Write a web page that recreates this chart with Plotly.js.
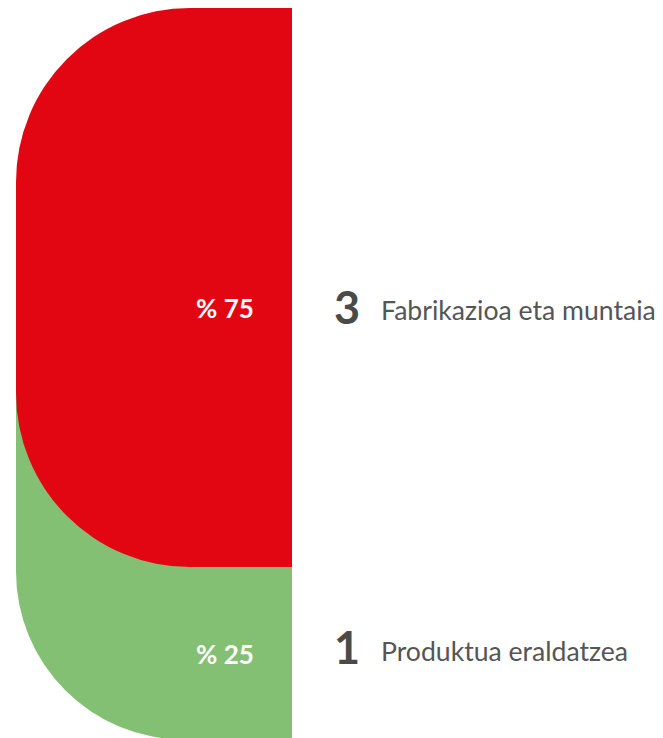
<!DOCTYPE html>
<html>
<head>
<meta charset="utf-8">
<script src="https://cdn.plot.ly/plotly-3.0.1.min.js"></script>
<style>
  html, body { margin: 0; padding: 0; background: #ffffff; }
  #chart { width: 663px; height: 738px; }
</style>
</head>
<body>
<div id="chart"></div>
<script>
// ---- data (bottom segment first) ----
const categories = ['Produktua eraldatzea', 'Fabrikazioa eta muntaia'];
const counts = [1, 3];
const shares = [25, 75];

// ---- styles ----
const colors = ['#83C074', '#E20613'];
const radii = [168, 174];          // corner radius in px
const BAR_LEN = 1;                 // horizontal length of every segment
const DROP = 1.42;                 // upper segment overlaps the one below (units)
const TUCK = 50;                   // lower segment hidden under the one above (units)
const PCT_YSHIFT = [-1, -20];
const NUM_YSHIFT = [6, -19];
const LAB_YSHIFT = [2, -22];
const FONT = 'Lato, "Open Sans", sans-serif';

// cumulative stack
const starts = [];
let acc = 0;
shares.forEach(s => { starts.push(acc); acc += s; });
const total = acc;
const n = shares.length;

const traces = [];
const annotations = [];
for (let i = 0; i < n; i++) {
  const lo = starts[i] - (i > 0 ? DROP : 0);
  const hi = starts[i] + shares[i] + (i < n - 1 ? TUCK : 0);
  traces.push({
    type: 'bar',
    orientation: 'h',
    x: [-BAR_LEN],
    y: [(lo + hi) / 2],
    width: [hi - lo],
    marker: { color: colors[i], cornerradius: radii[i], line: { width: 0 } },
    hoverinfo: 'skip',
    showlegend: false
  });
  const visLo = lo;
  const visHi = (i < n - 1) ? starts[i + 1] - DROP : starts[i] + shares[i];
  const yc = (visLo + visHi) / 2;
  annotations.push({
    xref: 'x', yref: 'y', x: -0.13, y: yc, yshift: PCT_YSHIFT[i],
    xanchor: 'right', yanchor: 'middle', showarrow: false,
    text: '<b>% ' + shares[i] + '</b>',
    font: { family: FONT, size: 26, color: '#ffffff' }
  });
  annotations.push({
    xref: 'x', yref: 'y', x: 0.254, y: yc, yshift: NUM_YSHIFT[i],
    xanchor: 'right', yanchor: 'middle', showarrow: false,
    text: '<b>' + counts[i] + '</b>',
    font: { family: FONT, size: 45, color: '#4a4a4a' }
  });
  annotations.push({
    xref: 'x', yref: 'y', x: 0.316, y: yc, yshift: LAB_YSHIFT[i],
    xanchor: 'left', yanchor: 'middle', showarrow: false,
    text: categories[i],
    font: { family: FONT, size: 26.6, color: '#555555' }
  });
}

const layout = {
  width: 663, height: 738,
  margin: { l: 0, r: 0, t: 0, b: 0, pad: 0 },
  paper_bgcolor: '#ffffff', plot_bgcolor: '#ffffff',
  barmode: 'overlay',
  showlegend: false,
  hovermode: false,
  xaxis: { range: [-1.05797, 1.34420], visible: false, fixedrange: true },
  yaxis: { range: [0.205, total + 1.094], visible: false, fixedrange: true },
  annotations: annotations
};

Plotly.newPlot('chart', traces, layout, { staticPlot: true, displayModeBar: false });
</script>
</body>
</html>
